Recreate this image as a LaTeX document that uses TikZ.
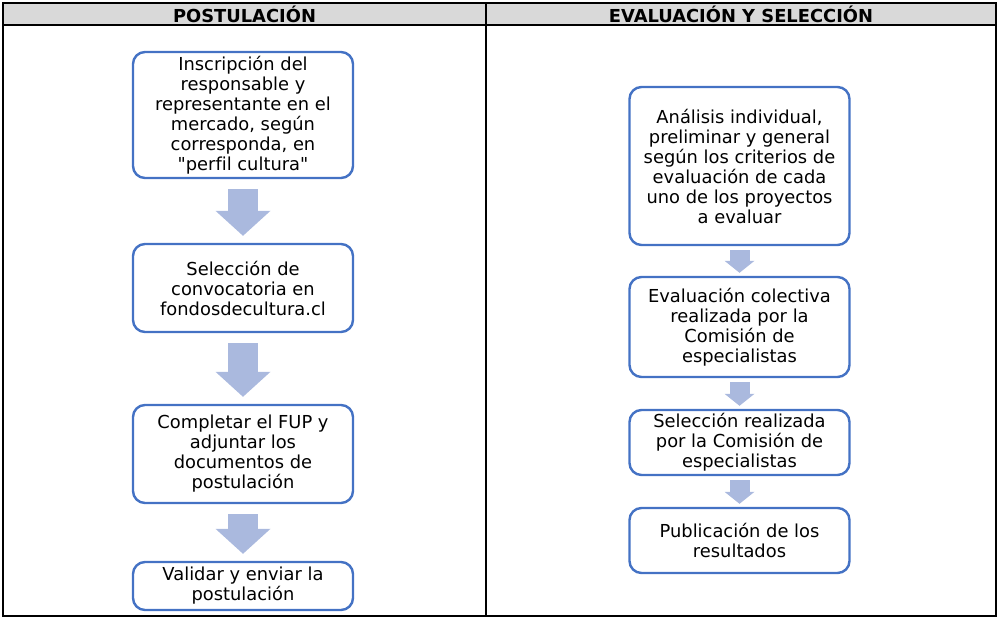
\documentclass[tikz,border=0pt]{standalone}
\usepackage{fontspec}
\setmainfont{DejaVu Sans}[Ligatures={TeXOff,NoCommon}]
\usetikzlibrary{arrows.meta,calc}

\definecolor{bordeazul}{RGB}{68,114,196}
\definecolor{flechaazul}{RGB}{170,185,222}
\definecolor{grisencab}{RGB}{217,217,217}

\tikzset{
  caja/.style={draw=bordeazul, line width=1.8pt, rounded corners=9pt, align=center,
    minimum width=165pt, inner sep=2pt, font=\fontsize{13.4}{15}\selectfont},
  encab/.style={font=\fontsize{13.4}{15}\selectfont\bfseries},
  flechagrande/.style={draw=flechaazul, line width=22.5pt,
    -{Triangle[width=41.25pt,length=18.75pt,line width=0pt]}},
  flechachica/.style={draw=flechaazul, line width=15pt,
    -{Triangle[width=22.5pt,length=9pt,line width=0pt]}},
}

\begin{document}
\begin{tikzpicture}[x=0.75pt, y=-0.75pt]
  \useasboundingbox (0,0) rectangle (998,617);

  % tabla
  \fill[grisencab] (3,3) rectangle (996,25);
  \draw[line width=1.5pt] (3,3) rectangle (996,616);
  \draw[line width=1.5pt] (3,25) -- (996,25);
  \draw[line width=1.5pt] (486,3) -- (486,616);
  \node[encab] (tpost) at (244.5,14) {POSTULACIÓN};
  \node[encab] (teval) at (741,14) {EVALUACIÓN Y SELECCIÓN};

  % postulacion
  \node[caja, minimum height=94.5pt] (inscr) at (243,115)
    {Inscripción del\\responsable y\\representante en el\\mercado, según\\corresponda, en\\"perfil cultura"};
  \node[caja, minimum height=66pt] (convoc) at (243,288)
    {Selección de\\convocatoria en\\fondosdecultura.cl};
  \node[caja, minimum height=73.5pt] (fup) at (243,454)
    {Completar el FUP y\\adjuntar los\\documentos de\\postulación};
  \node[caja, minimum height=36pt] (enviar) at (243,586)
    {Validar y enviar la\\postulación};

  \draw[flechagrande] ($(inscr.south)+(0,10)$) -- ($(convoc.north)+(0,-7)$);
  \draw[flechagrande] ($(convoc.south)+(0,10)$) -- ($(fup.north)+(0,-7)$);
  \draw[flechagrande] ($(fup.south)+(0,10)$) -- ($(enviar.north)+(0,-7)$);

  % evaluacion y seleccion
  \node[caja, minimum height=118.5pt] (analisis) at (739.5,166)
    {Análisis individual,\\preliminar y general\\según los criterios de\\evaluación de cada\\uno de los proyectos\\a evaluar};
  \node[caja, minimum height=75pt] (colect) at (739.5,327)
    {Evaluación colectiva\\realizada por la\\Comisión de\\especialistas};
  \node[caja, minimum height=48.75pt] (selec) at (739.5,442.5)
    {Selección realizada\\por la Comisión de\\especialistas};
  \node[caja, minimum height=48.75pt] (public) at (739.5,540.5)
    {Publicación de los\\resultados};

  \draw[flechachica] ($(analisis.south)+(0,4)$) -- ($(colect.north)+(0,-3)$);
  \draw[flechachica] ($(colect.south)+(0,4)$) -- ($(selec.north)+(0,-3)$);
  \draw[flechachica] ($(selec.south)+(0,4)$) -- ($(public.north)+(0,-3)$);
\end{tikzpicture}
\end{document}
